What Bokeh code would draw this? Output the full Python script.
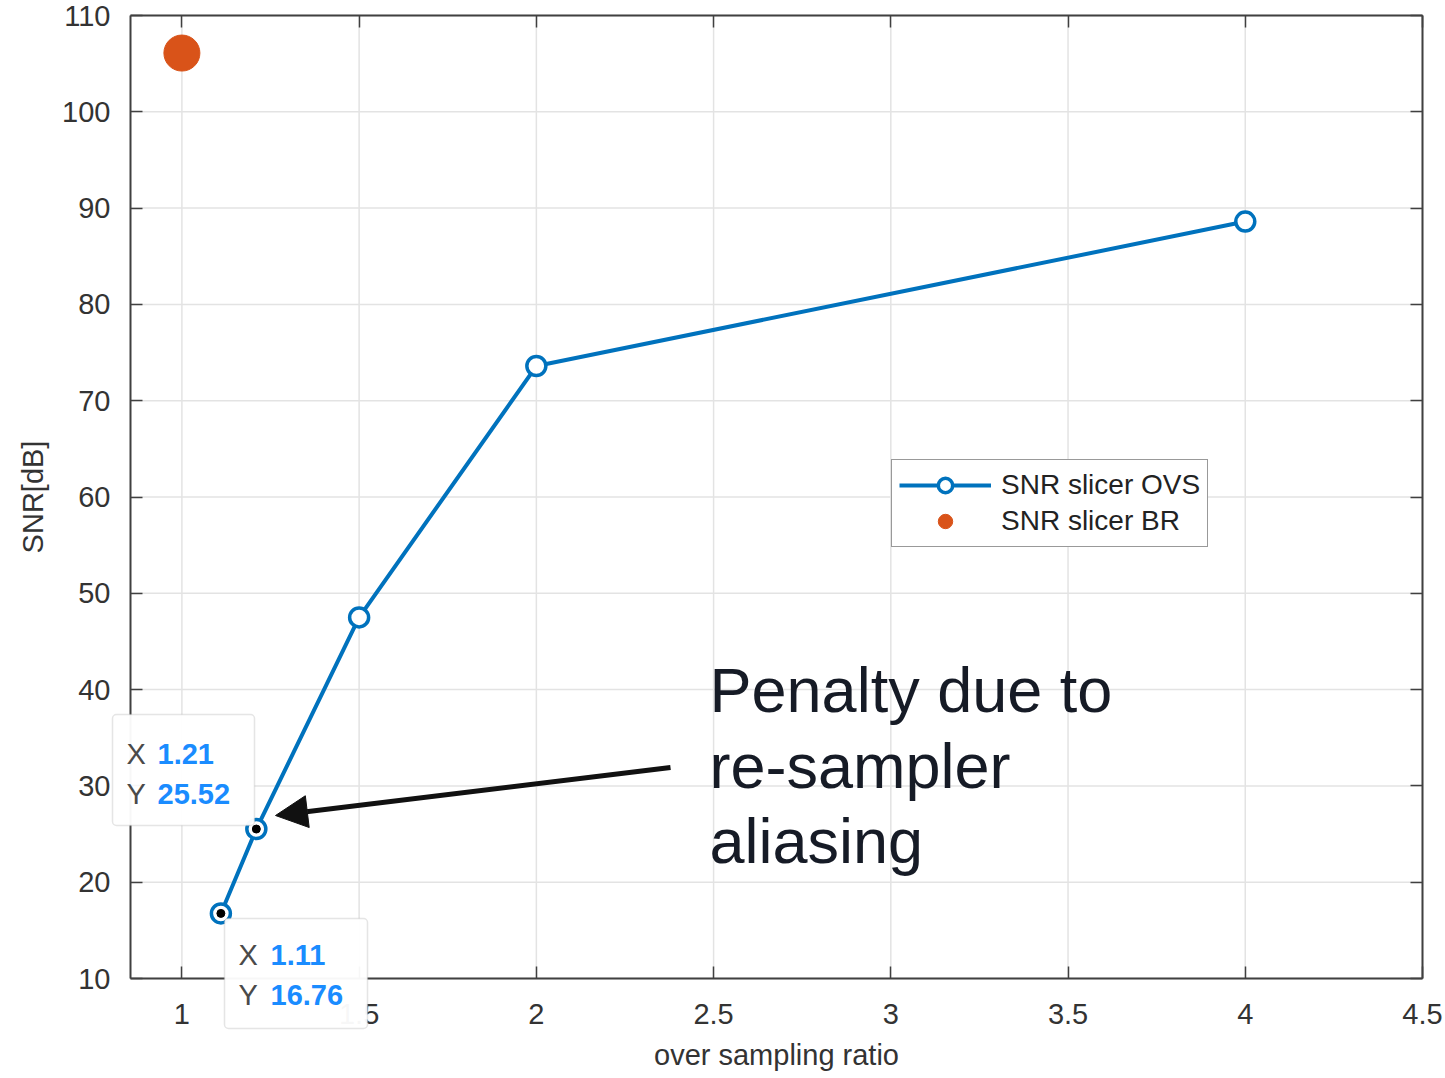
from bokeh.plotting import figure
from bokeh.models import (Range1d, LinearAxis, FixedTicker, Legend, LegendItem,
                          Label, Arrow, NormalHead, BoxAnnotation)
from bokeh.embed import file_html
from bokeh.resources import INLINE

# ---- data ----
osr = [1.11, 1.21, 1.5, 2.0, 4.0]
snr_ovs = [16.76, 25.52, 47.5, 73.6, 88.6]
br_x = [1.0]
snr_br = [106.1]
tip_x = [1.11, 1.21]
tip_y = [16.76, 25.52]
x_ticks = [1, 1.5, 2, 2.5, 3, 3.5, 4, 4.5]
y_ticks = [10, 20, 30, 40, 50, 60, 70, 80, 90, 100, 110]

# ---- layout ----
W, H = 1445, 1078
# the frame covers the whole canvas so that datatips and tick labels are not clipped
FRL, FRR, FRT, FRB = 0, W, 0, H
# axes box in canvas pixels
BL, BR, BT, BB = 130, 1422, 15, 978
X0, X1, Y0, Y1 = 0.855, 4.5, 10, 110
KX = (X1 - X0) / (BR - BL)
KY = (Y1 - Y0) / (BB - BT)
XS, XE = X0 - (BL - FRL) * KX, X1 + (FRR - BR) * KX
YS, YE = Y0 - (FRB - BB) * KY, Y1 + (BT - FRT) * KY
FONT = "Liberation Sans"
TXT = "#333333"
AX = "#404040"
GRID = "#e3e3e3"
BLUE = "#0072BD"
ORANGE = "#D95319"


def dx(px):
    return X0 + (px - BL) * KX


def dy(py):
    return Y0 + (BB - py) * KY


p = figure(width=W, height=H, output_backend="svg", toolbar_location=None,
           x_range=Range1d(XS, XE), y_range=Range1d(YS, YE),
           x_axis_location=None, y_axis_location=None,
           min_border_left=0, min_border_right=0,
           min_border_top=0, min_border_bottom=0)
p.background_fill_color = "white"
p.border_fill_color = "white"
p.outline_line_color = None
p.xgrid.visible = False
p.ygrid.visible = False


def make_axis(loc, ticks, bounds, label=None, show_labels=True):
    ax = LinearAxis(fixed_location=loc, ticker=FixedTicker(ticks=ticks),
                    bounds=bounds,
                    major_tick_in=12, major_tick_out=0,
                    major_tick_line_color=AX, major_tick_line_width=1.5,
                    minor_tick_line_color=None, axis_line_color=AX,
                    axis_line_width=2,
                    major_label_text_font=FONT, major_label_text_font_size="29px",
                    major_label_text_color=TXT,
                    axis_label_text_font=FONT, axis_label_text_font_size="29px",
                    axis_label_text_font_style="normal",
                    axis_label_text_color=TXT)
    if label:
        ax.axis_label = label
    if not show_labels:
        ax.major_label_text_color = None
        ax.major_label_standoff = 0
    return ax


# grid lines, limited to the axes box, drawn from the tick arrays
p.segment(x0=x_ticks, y0=[Y0] * len(x_ticks), x1=x_ticks, y1=[Y1] * len(x_ticks),
          line_color=GRID, line_width=1.5, level="underlay")
p.segment(x0=[X0] * len(y_ticks), y0=y_ticks, x1=[X1] * len(y_ticks), y1=y_ticks,
          line_color=GRID, line_width=1.5, level="underlay")

xb = make_axis(Y0, x_ticks, (X0, X1), "over sampling ratio")
xb.major_label_standoff = 25
xb.axis_label_standoff = 12
yl = make_axis(X0, y_ticks, (Y0, Y1), "SNR[dB]")
yl.major_label_standoff = 20
yl.axis_label_standoff = 10
p.add_layout(xb, "below")
p.add_layout(yl, "left")
p.add_layout(make_axis(Y1, x_ticks, (X0, X1), show_labels=False), "above")
p.add_layout(make_axis(X1, y_ticks, (Y0, Y1), show_labels=False), "right")

# ---- glyphs ----
ln = p.line(osr, snr_ovs, line_color=BLUE, line_width=4)
mk = p.scatter(osr, snr_ovs, marker="circle", size=19, line_color=BLUE,
               line_width=3.5, fill_color="white")
br = p.scatter(br_x, snr_br, marker="circle", size=36, line_color=ORANGE,
               fill_color=ORANGE)
p.scatter(tip_x, tip_y, marker="circle", size=8, line_color="black",
          fill_color="black")

legend = Legend(items=[LegendItem(label="SNR slicer OVS", renderers=[ln, mk]),
                       LegendItem(label="SNR slicer BR", renderers=[br])],
                location=(891 - FRL, FRB - 547), orientation="vertical",
                label_text_font=FONT, label_text_font_size="28px",
                label_text_color="#222222", padding=7, spacing=-2, margin=0,
                glyph_width=92, glyph_height=36, label_standoff=10,
                border_line_color="#333333", border_line_width=1.5,
                background_fill_color="white", background_fill_alpha=1)
p.add_layout(legend, "center")


def label(x_px, base_px, text, size, color, bold=False):
    # compensate for the renderer's alphabetic baseline offset
    y_px = base_px - 0.365 * size
    return Label(x=dx(x_px), y=dy(y_px), text=text, text_font=FONT,
                 text_font_size=f"{size}px", text_color=color,
                 text_font_style="bold" if bold else "normal",
                 text_baseline="alphabetic")


# ---- arrow and annotation text ----
p.add_layout(Arrow(end=NormalHead(size=32, fill_color="#111111", line_color="#111111"),
                   x_start=dx(670), y_start=dy(767), x_end=dx(275), y_end=dy(815),
                   line_color="#111111", line_width=5))

for txt, by in (("Penalty due to", 712), ("re-sampler", 788), ("aliasing", 863)):
    p.add_layout(label(709, by, txt, 63, "#161b26"))

# ---- datatips ----
tips = [
    ((112, 254, 714, 825), (126, 157), (764, 804), "1.21", "25.52"),
    ((224, 367, 918, 1028), (238, 270), (965, 1005), "1.11", "16.76"),
]
for (l, r, t, b), (tx, nx), (b1, b2), xs, ys in tips:
    p.add_layout(BoxAnnotation(left=dx(l), right=dx(r), top=dy(t), bottom=dy(b),
                               fill_color="white", fill_alpha=0.96,
                               line_color="#a8a8a8", line_width=1.5,
                               border_radius=4))
    for lab, num, by in (("X", xs, b1), ("Y", ys, b2)):
        p.add_layout(label(tx, by, lab, 29, "#4a4a4a"))
        p.add_layout(label(nx, by, num, 29, "#1a8cff", bold=True))

open("out.html", "w").write(file_html(p, INLINE))
